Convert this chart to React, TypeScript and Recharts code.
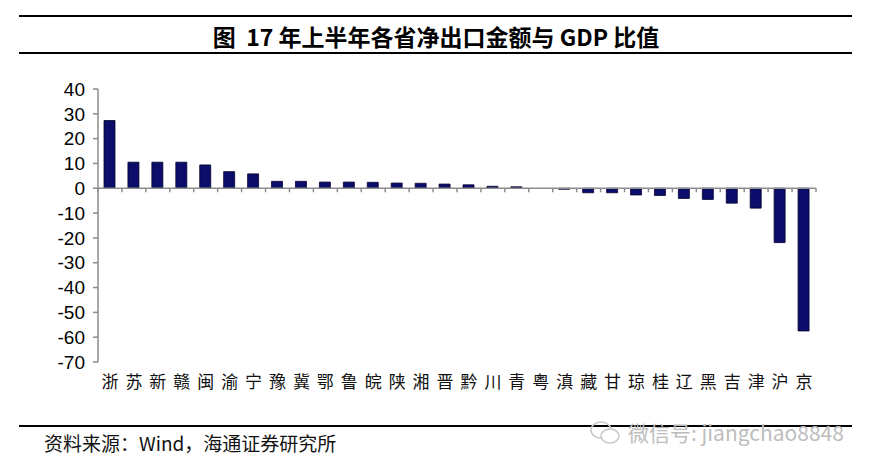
import { BarChart, Bar, XAxis, YAxis, ReferenceLine } from 'recharts';

const provinces = ['浙', '苏', '新', '赣', '闽', '渝', '宁', '豫', '冀', '鄂', '鲁', '皖', '陕', '湘', '晋', '黔', '川', '青', '粤', '滇', '藏', '甘', '琼', '桂', '辽', '黑', '吉', '津', '沪', '京'];
const ratios = [27.3, 10.5, 10.5, 10.5, 9.4, 6.7, 5.8, 2.8, 2.8, 2.5, 2.5, 2.4, 2.1, 2.0, 1.7, 1.4, 0.8, 0.6, 0, -0.4, -1.8, -1.8, -2.7, -2.9, -4.1, -4.5, -6.0, -8.0, -21.9, -57.5];
const yTicks = [-70, -60, -50, -40, -30, -20, -10, 0, 10, 20, 30, 40];

const title = '图  17 年上半年各省净出口金额与 GDP 比值';
const source = '资料来源：Wind，海通证券研究所';
const watermark = '微信号: jiangchao8848';

const data = provinces.map((name, i) => ({ name, value: ratios[i] }));

const axisGray = '#8c8c8c';
const cjk = '"Noto Sans CJK SC", "Liberation Sans", sans-serif';

export default function App() {
  return (
    <div style={{ position: 'absolute', left: 0, top: 0, width: 872, height: 472, background: '#fff', overflow: 'hidden' }}>
      {/* title block with rules */}
      <div style={{ position: 'absolute', left: 19, top: 15, width: 833, height: 2, background: '#000' }} />
      <div style={{ position: 'absolute', left: 0, top: 20, width: 872, textAlign: 'center', whiteSpace: 'pre', fontFamily: cjk, fontWeight: 700, fontSize: 23, lineHeight: '32px', color: '#000' }}>
        {title}
      </div>
      <div style={{ position: 'absolute', left: 19, top: 52, width: 833, height: 2, background: '#000' }} />

      <div style={{ position: 'absolute', left: 0, top: 0 }}>
        <BarChart width={872} height={472} data={data} margin={{ top: 89, right: 56, bottom: 80, left: 38 }}>
          <XAxis
            dataKey="name"
            interval={0}
            axisLine={false}
            tickLine={false}
            tickSize={6}
            tickMargin={8}
            height={30}
            tick={{ fill: '#111', fontSize: 17, fontFamily: cjk }}
          />
          <YAxis
            domain={[-70, 40]}
            ticks={yTicks}
            interval={0}
            width={60}
            axisLine={{ stroke: axisGray, strokeWidth: 1.5 }}
            tickLine={{ stroke: axisGray, strokeWidth: 1.5 }}
            tickSize={5}
            tickMargin={8}
            tick={{ fill: '#000', fontSize: 19, fontFamily: '"Liberation Sans", Arial, sans-serif' }}
          />
          <ReferenceLine y={0} stroke={axisGray} strokeWidth={1.5} />
          {provinces.map((p) => (
            <ReferenceLine key={p} segment={[{ x: p, y: 0 }, { x: p, y: -1.6 }]} position="start" stroke={axisGray} strokeWidth={1.5} />
          ))}
          <ReferenceLine
            segment={[{ x: provinces[provinces.length - 1], y: 0 }, { x: provinces[provinces.length - 1], y: -1.6 }]}
            position="end"
            stroke={axisGray}
            strokeWidth={1.5}
          />
          <Bar dataKey="value" barSize={11} fill="#0c0c6a" stroke="#03032e" strokeWidth={0.8} isAnimationActive={false} />
        </BarChart>
      </div>

      {/* footer */}
      <div style={{ position: 'absolute', left: 19, top: 425, width: 833, height: 2, background: '#000' }} />
      <div style={{ position: 'absolute', left: 44, top: 430, fontFamily: cjk, fontSize: 19, lineHeight: '26px', color: '#111' }}>
        {source}
      </div>
      <svg style={{ position: 'absolute', left: 588, top: 418 }} width={36} height={30}>
        <ellipse cx={13} cy={12} rx={10} ry={8} fill="none" stroke="#c8c8c8" strokeWidth={1.5} />
        <ellipse cx={22} cy={18} rx={9} ry={7} fill="#fff" stroke="#c8c8c8" strokeWidth={1.5} />
      </svg>
      <div style={{ position: 'absolute', left: 628, top: 418, fontFamily: cjk, fontSize: 21, lineHeight: '28px', color: '#bdbdbd' }}>
        {watermark}
      </div>
    </div>
  );
}
